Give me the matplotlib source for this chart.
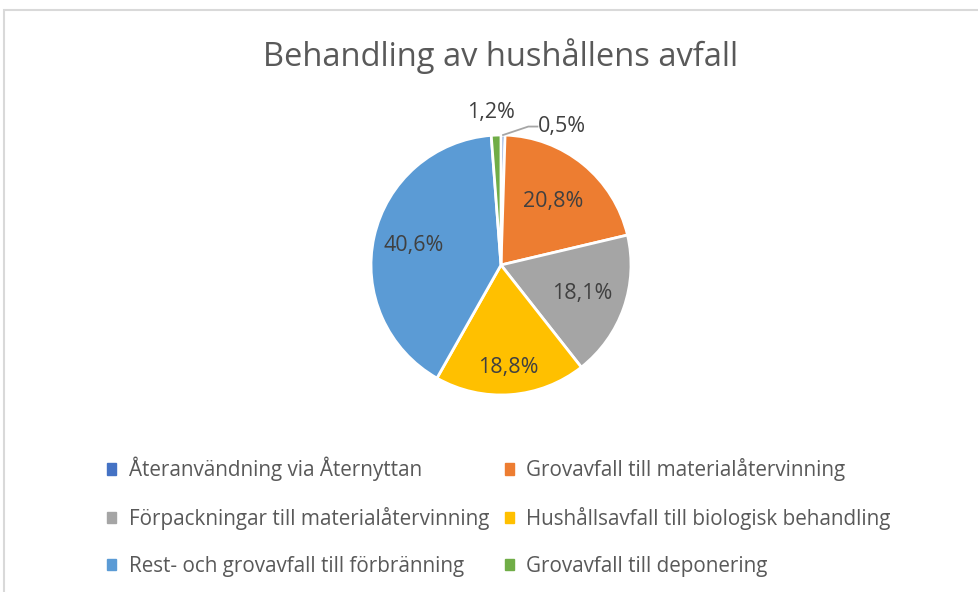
import matplotlib
matplotlib.use("Agg")
import matplotlib.pyplot as plt
import numpy as np
from matplotlib.patches import Rectangle

categories = ["Återanvändning via Åternyttan",
              "Grovavfall till materialåtervinning",
              "Förpackningar till materialåtervinning",
              "Hushållsavfall till biologisk behandling",
              "Rest- och grovavfall till förbränning",
              "Grovavfall till deponering"]
values = [0.5, 20.8, 18.1, 18.8, 40.6, 1.2]
labels = ["0,5%", "20,8%", "18,1%", "18,8%", "40,6%", "1,2%"]
colors = ["#4472C4", "#ED7D31", "#A5A5A5", "#FFC000", "#5B9BD5", "#70AD47"]

plt.rcParams['font.family'] = ['Open Sans', 'DejaVu Sans']
txt = "#595959"
lbl = "#404040"

W, H = 979, 592
fig = plt.figure(figsize=(W/100, H/100), dpi=100)
fig.patches.append(Rectangle((4/W, -0.1), 1.2, (H-10)/H + 0.1, transform=fig.transFigure,
                             fill=False, edgecolor="#D9D9D9", linewidth=1.5))

cx, cy, R = 501, 265, 130
ax = fig.add_axes([(cx-R)/W, (H-cy-R)/H, 2*R/W, 2*R/H])
ax.axis('off')

wedges, _ = ax.pie(values, colors=colors, startangle=90, counterclock=False, radius=1,
                   wedgeprops=dict(edgecolor='white', linewidth=2))
ax.set_xlim(-1, 1); ax.set_ylim(-1, 1)
ax.set_aspect('equal')

dists = [1.21, 0.63, 0.66, 0.79, 0.69, 1.21]
total = sum(values)
start = 90.0
for i, v in enumerate(values):
    sweep = 360 * v / total
    mid = start - sweep / 2
    start -= sweep
    a = np.deg2rad(mid)
    if i == 0:
        ax.plot([np.cos(a)*1.0, 0.21, 0.28], [np.sin(a)*1.0, 1.065, 1.065],
                color="#A6A6A6", lw=1.3, clip_on=False)
        ax.text(0.28, 1.065, labels[i], ha='left', va='center', fontsize=15.5, color=lbl, clip_on=False)
    elif i == 5:
        ax.text(-0.08, 1.175, labels[i], ha='center', va='center', fontsize=15.5, color=lbl, clip_on=False)
    else:
        d = dists[i]
        ax.text(np.cos(a)*d, np.sin(a)*d, labels[i], ha='center', va='center', fontsize=15.5, color=lbl)

fig.text(cx/W, 1 - 56/H, "Behandling av hushållens avfall", ha='center', va='center',
         fontsize=23.5, color=txt)

order = [0, 2, 4, 1, 3, 5]
handles = [Rectangle((0, 0), 1, 1, color=colors[i]) for i in order]
leg = fig.legend(handles, [categories[i] for i in order], ncol=2, loc='center',
                 bbox_to_anchor=(499/W, 1 - 517/H), frameon=False, fontsize=14.9,
                 handlelength=0.45, handleheight=0.45, handletextpad=0.6,
                 columnspacing=0.75, labelspacing=1.25)
for t in leg.get_texts():
    t.set_color(txt)

fig.savefig("out.png", dpi=100, facecolor='white')
